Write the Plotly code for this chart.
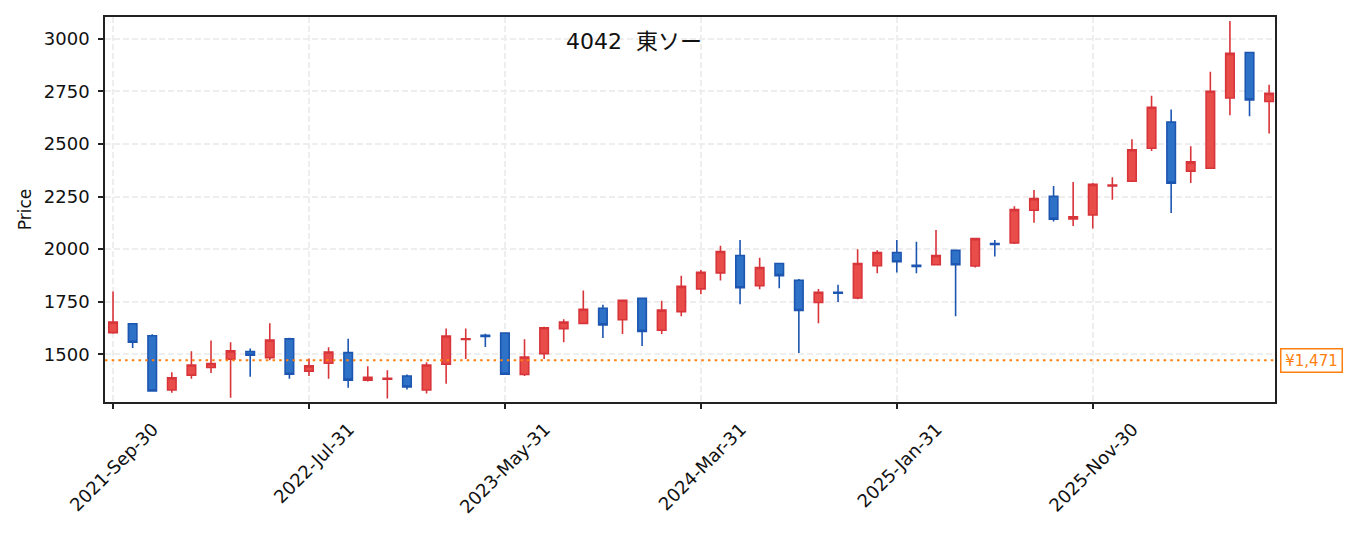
import pandas as pd
import plotly.graph_objects as go

# monthly candles, 4042 Tosoh
dates = pd.date_range("2021-09-30", periods=60, freq="ME")
labels = [d.strftime("%Y-%b-%d") for d in dates]

open_ = [1603, 1645, 1588, 1330, 1401, 1437, 1476, 1513, 1484, 1573,
         1420, 1457, 1508, 1377, 1382, 1397, 1330, 1453, 1570, 1590,
         1601, 1404, 1503, 1622, 1647, 1719, 1664, 1766, 1614, 1703,
         1811, 1887, 1970, 1826, 1932, 1852, 1746, 1795, 1768, 1921,
         1984, 1923, 1926, 1994, 1920, 2026, 2030, 2185, 2251, 2143,
         2162, 2300, 2323, 2480, 2604, 2371, 2385, 2719, 2935, 2702]
high = [1798, 1645, 1595, 1415, 1514, 1566, 1557, 1527, 1647, 1579,
        1480, 1533, 1574, 1443, 1424, 1404, 1462, 1622, 1622, 1598,
        1601, 1571, 1631, 1666, 1803, 1735, 1757, 1766, 1755, 1874,
        1901, 2016, 2044, 1959, 1932, 1858, 1811, 1831, 2000, 1995,
        2043, 2035, 2091, 1994, 2050, 2044, 2204, 2281, 2300, 2319,
        2314, 2342, 2523, 2730, 2664, 2489, 2844, 3085, 2935, 2782]
low = [1598, 1530, 1325, 1317, 1383, 1411, 1293, 1393, 1472, 1383,
       1397, 1383, 1341, 1371, 1290, 1333, 1314, 1360, 1478, 1535,
       1405, 1397, 1478, 1557, 1647, 1577, 1596, 1539, 1596, 1681,
       1785, 1851, 1738, 1809, 1814, 1506, 1648, 1748, 1762, 1885,
       1889, 1885, 1926, 1681, 1913, 1965, 2024, 2125, 2131, 2110,
       2098, 2235, 2323, 2467, 2172, 2314, 2385, 2637, 2632, 2550]
close = [1653, 1557, 1325, 1388, 1449, 1456, 1516, 1495, 1568, 1405,
         1445, 1511, 1377, 1390, 1386, 1344, 1449, 1587, 1573, 1585,
         1405, 1487, 1626, 1653, 1714, 1640, 1757, 1609, 1710, 1823,
         1890, 1989, 1816, 1913, 1874, 1708, 1795, 1790, 1932, 1984,
         1940, 1918, 1970, 1926, 2050, 2022, 2188, 2240, 2142, 2154,
         2308, 2305, 2473, 2675, 2314, 2415, 2751, 2931, 2710, 2741]

ref_price = 1471
ref_label = "¥1,471"
title = "4042\u00a0 東ソー"

FONT = "DejaVu Sans, Noto Sans CJK JP"
ORANGE = "#ff7f0e"

fig = go.Figure(go.Candlestick(
    x=labels, open=open_, high=high, low=low, close=close,
    increasing=dict(line=dict(color="#d8353a", width=1.6), fillcolor="#e84d4a"),
    decreasing=dict(line=dict(color="#1d56b0", width=1.6), fillcolor="#2e72c8"),
    whiskerwidth=0, showlegend=False,
))

# reference price line + label
fig.add_shape(type="line", xref="paper", x0=0, x1=1, yref="y", y0=ref_price, y1=ref_price,
              line=dict(color=ORANGE, width=2, dash="2.5px,4.2px"))
fig.add_annotation(xref="paper", x=1.004, yref="y", y=ref_price, xanchor="left", yanchor="middle",
                   text=ref_label, showarrow=False, font=dict(family=FONT, size=15, color=ORANGE),
                   width=56, bgcolor="white", bordercolor=ORANGE, borderwidth=1.5, borderpad=2)
fig.add_annotation(xref="paper", x=0.452, yref="paper", y=0.975, xanchor="center", yanchor="top",
                   text=title, showarrow=False, font=dict(family=FONT, size=22, color="#111"))

axis_style = dict(showline=True, linecolor="#222", linewidth=1.5, mirror=True,
                  ticks="outside", ticklen=5, tickwidth=1.5, tickcolor="#222",
                  showgrid=True, gridcolor="#eeeeee", griddash="6px,3px", gridwidth=1.5,
                  zeroline=False, tickfont=dict(family=FONT, size=18, color="#111"))

fig.update_layout(
    width=1347, height=525,
    margin=dict(l=97, r=80, t=7, b=131),
    paper_bgcolor="white", plot_bgcolor="white",
    boxgap=0.38,
    xaxis=dict(type="category", rangeslider=dict(visible=False),
               tickmode="array", tickvals=labels[::10], tickangle=-45,
               ticklabelshift=40, ticklabelstandoff=3,
               range=[-0.41, 59.3], **axis_style),
    yaxis=dict(title=dict(text="Price", font=dict(family=FONT, size=17, color="#111"), standoff=8),
               range=[1273, 3104], tickvals=[1500, 1750, 2000, 2250, 2500, 2750, 3000],
               ticklabelstandoff=5, **axis_style),
)

fig.write_html("out.html")
